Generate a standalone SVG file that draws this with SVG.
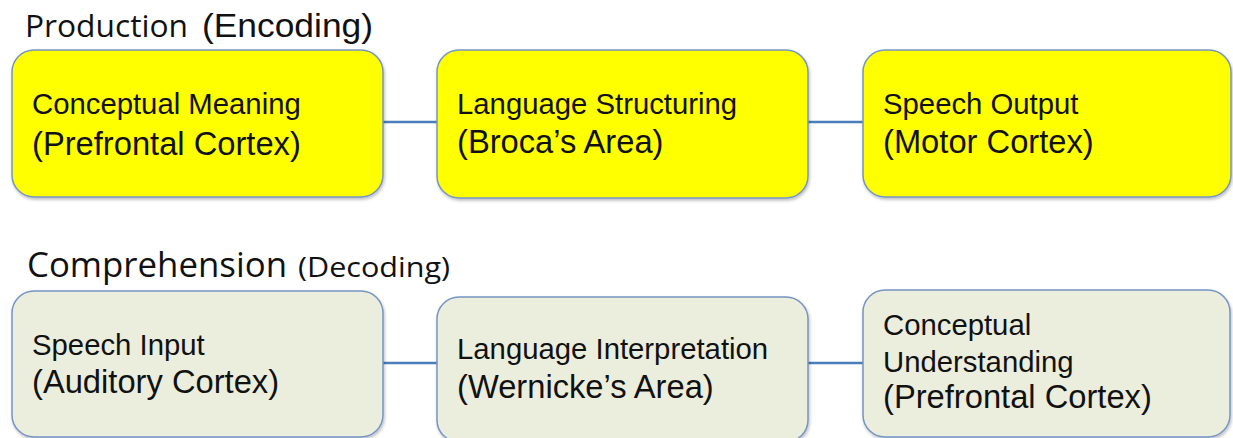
<svg xmlns="http://www.w3.org/2000/svg" width="1233" height="438" viewBox="0 0 1233 438">
  <defs>
    <filter id="sh" x="-5%" y="-5%" width="110%" height="115%">
      <feDropShadow dx="1" dy="2" stdDeviation="1.5" flood-color="#000" flood-opacity="0.25"/>
    </filter>
  </defs>
  <style>
    .box { stroke: #7595c4; stroke-width: 1.5; filter: url(#sh); }
    .prod { fill: #ffff00; }
    .comp { fill: #ebeedd; }
    .l1 { font-family: "Liberation Sans", Arial, sans-serif; font-size: 29.3px; fill: #111; }
    .l2 { font-family: "Liberation Sans", Arial, sans-serif; font-size: 32.7px; fill: #111; }
    .cal { font-family: "Open Sans", Lato, sans-serif; fill: #111; }
    .ari { font-family: "Liberation Sans", Arial, sans-serif; fill: #111; }
    .conn { stroke: #4a7ebb; stroke-width: 2.5; fill: none; }
  </style>
  <rect width="1233" height="438" fill="#ffffff"/>

  <g id="titles">
    <text x="25" y="37" class="cal" font-size="30.4" textLength="163" lengthAdjust="spacingAndGlyphs">Production</text>
    <text x="202" y="37" class="ari" font-size="33.5" textLength="171" lengthAdjust="spacingAndGlyphs">(Encoding)</text>
    <text x="27" y="277" class="cal" font-size="35" textLength="260" lengthAdjust="spacingAndGlyphs">Comprehension</text>
    <text x="298" y="277" class="cal" font-size="26.6" textLength="152" lengthAdjust="spacingAndGlyphs">(Decoding)</text>
  </g>

  <g id="connectors">
    <line class="conn" x1="383" y1="122" x2="437" y2="122"/>
    <line class="conn" x1="808" y1="122" x2="863" y2="122"/>
    <line class="conn" x1="383" y1="363" x2="437" y2="363"/>
    <line class="conn" x1="808" y1="363" x2="863" y2="363"/>
  </g>

  <g id="node-conceptual-meaning">
    <rect class="box prod" x="12" y="50" width="371" height="147" rx="22"/>
    <text class="l1" x="32" y="114">Conceptual Meaning</text>
    <text class="l2" x="32" y="155">(Prefrontal Cortex)</text>
  </g>
  <g id="node-language-structuring">
    <rect class="box prod" x="437" y="50" width="371" height="148" rx="22"/>
    <text class="l1" x="457" y="114">Language Structuring</text>
    <text class="l2" x="457" y="153">(Broca’s Area)</text>
  </g>
  <g id="node-speech-output">
    <rect class="box prod" x="863" y="50" width="368" height="147" rx="22"/>
    <text class="l1" x="883" y="114">Speech Output</text>
    <text class="l2" x="883" y="153">(Motor Cortex)</text>
  </g>

  <g id="node-speech-input">
    <rect class="box comp" x="12" y="291" width="371" height="146" rx="22"/>
    <text class="l1" x="32" y="355">Speech Input</text>
    <text class="l2" x="32" y="393">(Auditory Cortex)</text>
  </g>
  <g id="node-language-interpretation">
    <rect class="box comp" x="437" y="297" width="371" height="145" rx="22"/>
    <text class="l1" x="457" y="359">Language Interpretation</text>
    <text class="l2" x="457" y="398">(Wernicke’s Area)</text>
  </g>
  <g id="node-conceptual-understanding">
    <rect class="box comp" x="863" y="290" width="367" height="147" rx="22"/>
    <text class="l1" x="883" y="335">Conceptual</text>
    <text class="l1" x="883" y="372">Understanding</text>
    <text class="l2" x="883" y="408">(Prefrontal Cortex)</text>
  </g>
</svg>
